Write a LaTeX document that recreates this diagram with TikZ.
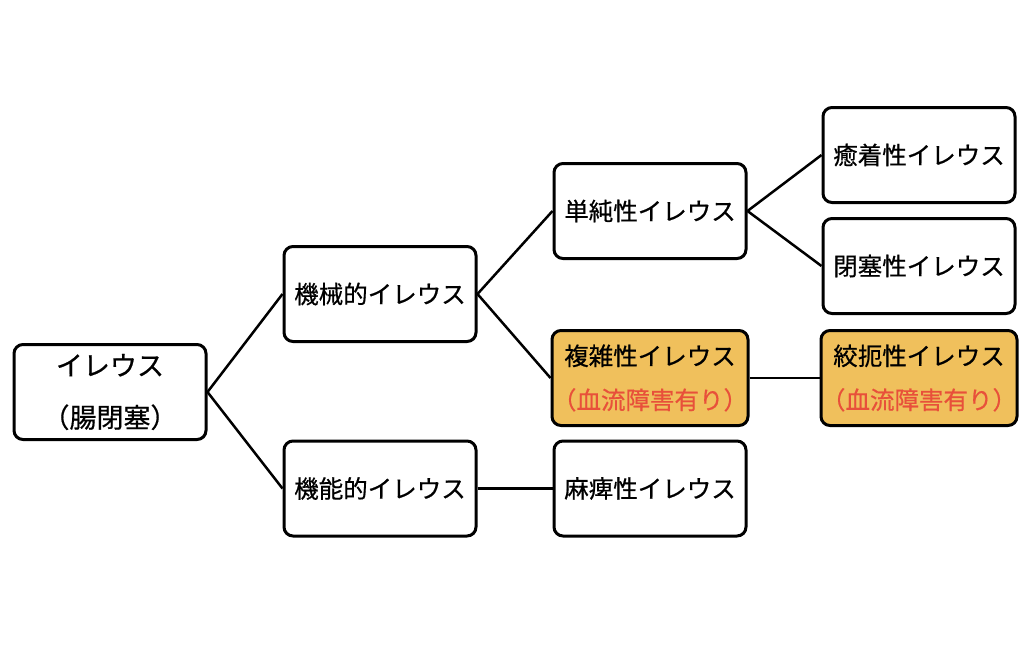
\documentclass[tikz,border=0pt]{standalone}
\usepackage{fontspec}
\setmainfont{Noto Sans CJK JP}[FakeBold=0.6]
\definecolor{boxorange}{RGB}{240,192,92}
\definecolor{redtext}{RGB}{232,80,58}
\tikzset{
  box/.style={draw=black, line width=3pt, rounded corners=9pt, fill=white,
    minimum width=192pt, minimum height=95pt, inner sep=0pt, align=center,
    font=\fontsize{24.5}{50}\selectfont},
  rootbox/.style={box, font=\fontsize{27}{52}\selectfont},
  hot/.style={box, fill=boxorange, font=\fontsize{24.5}{44}\selectfont},
  link/.style={draw=black, line width=2.5pt}
}
\begin{document}
\begin{tikzpicture}[x=1pt,y=-1pt]
\useasboundingbox (0,0) rectangle (1024,659);
\node[rootbox] (root) at (110,392) {イレウス\\（腸閉塞）};
\node[box] (mech) at (380,294) {機械的イレウス};
\node[box] (func) at (380,488.5) {機能的イレウス};
\node[box] (simple) at (650,211) {単純性イレウス};
\node[hot] (complex) at (650,378) {複雑性イレウス\\\textcolor{redtext}{（血流障害有り）}};
\node[box] (para) at (650,488.5) {麻痺性イレウス};
\node[box] (adh) at (919,155) {癒着性イレウス};
\node[box] (obs) at (919,266) {閉塞性イレウス};
\node[hot] (strang) at (919,378) {絞扼性イレウス\\\textcolor{redtext}{（血流障害有り）}};
\draw[link] (root.east) -- (mech.west);
\draw[link] (root.east) -- (func.west);
\draw[link] (mech.east) -- (simple.west);
\draw[link] (mech.east) -- (complex.west);
\draw[link] (func.east) -- (para.west);
\draw[link] (simple.east) -- (adh.west);
\draw[link] (simple.east) -- (obs.west);
\draw[link] (complex.east) -- (strang.west);
\end{tikzpicture}
\end{document}
